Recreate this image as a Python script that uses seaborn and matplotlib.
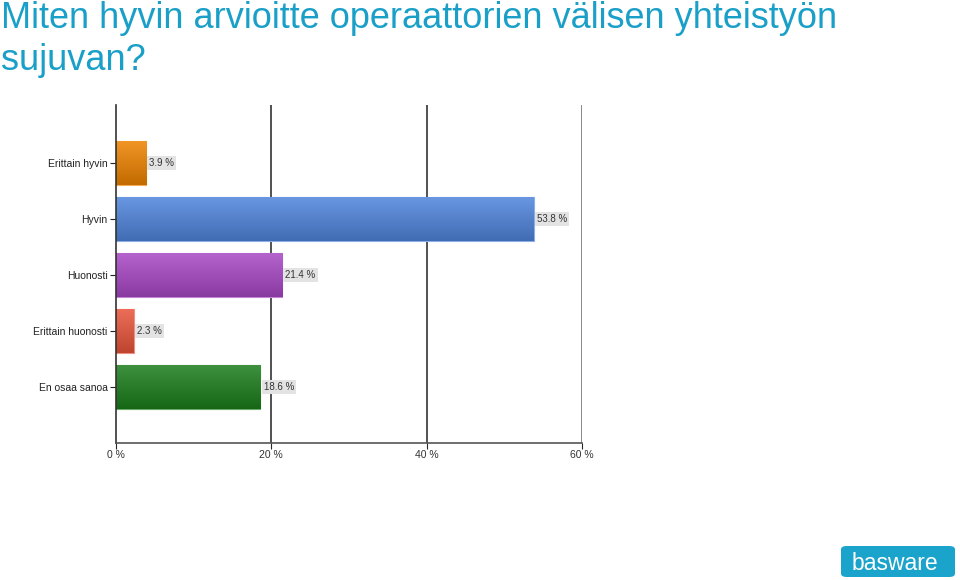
import matplotlib
matplotlib.use("Agg")
import matplotlib.pyplot as plt
import seaborn as sns
import pandas as pd
import numpy as np
from matplotlib.patches import FancyBboxPatch
from matplotlib.colors import to_rgb

categories = ["Erittain hyvin", "Hyvin", "Huonosti", "Erittain huonosti", "En osaa sanoa"]
values = [3.9, 53.8, 21.4, 2.3, 18.6]
colors = ["#ee8200", "#4f84dc", "#a847c4", "#e8543a", "#1b7d1b"]
xticks = [0, 20, 40, 60]
title_lines = ["Miten hyvin arvioitte operaattorien välisen yhteistyön", "sujuvan?"]

sns.set_theme(style="white")
plt.rcParams['font.family'] = ['Liberation Sans', 'DejaVu Sans']

df = pd.DataFrame({"cat": categories, "val": values})

fig = plt.figure(figsize=(9.6, 5.8), dpi=100)
ax = fig.add_axes([116/960, 1-443/580, (582-116)/960, (443-105)/580])

sns.barplot(data=df, y="cat", x="val", hue="cat", palette=colors, orient="h",
            width=0.786, ax=ax, legend=False, saturation=1)

ax.set_xlim(0, 60)
ax.set_ylim(5.0, -1.04)

# vertical gradient on each bar
for p in list(ax.patches):
    x0, y0 = p.get_x(), p.get_y()
    w, h = p.get_width(), p.get_height()
    if w <= 0:
        continue
    base = np.array(to_rgb(p.get_facecolor()))
    top = base + (1 - base) * 0.15
    bot = base * 0.82
    t = np.linspace(0, 1, 64)[:, None]
    grad = (top[None, :] * (1 - t) + bot[None, :] * t)[:, None, :]
    im = ax.imshow(grad, extent=[x0, x0 + w, y0 + h, y0], aspect="auto", zorder=p.get_zorder() + 0.1,
                   interpolation="bilinear")
    im.set_clip_path(p)
    p.set_edgecolor(tuple(base + (1 - base) * 0.35))
    p.set_linewidth(0.8)

ax.set_xlim(0, 60)
ax.set_ylim(5.0, -1.04)
ax.set_xticks(xticks)
ax.set_xticklabels([f"{t} %" for t in xticks], fontsize=7.5, color="#333333")
ax.tick_params(axis="y", labelsize=7.5, colors="#222222", length=4, width=0.8, direction="out", left=True, pad=2)
ax.tick_params(axis="x", length=4, width=0.8, direction="out", bottom=True, pad=1)
ax.set_xlabel("")
ax.set_ylabel("")
for t in xticks[1:-1]:
    ax.axvline(t, color="#333333", lw=1.2, zorder=0)
ax.axvline(60, color="#888888", lw=1.4, zorder=0)
for s in ["top", "right"]:
    ax.spines[s].set_visible(False)
ax.spines["left"].set_color("#333333")
ax.spines["bottom"].set_color("#555555")
ax.spines["left"].set_linewidth(1.2)
ax.spines["bottom"].set_linewidth(1.2)

for i, v in enumerate(values):
    ax.text(v + 0.4, i, f"{v} %", va="center", ha="left", fontsize=7, color="#333333",
            bbox=dict(boxstyle="square,pad=0.2", fc="#e3e3e3", ec="none"))

for line, base_y in zip(title_lines, [27.5, 70]):
    fig.text(1/960, 1-base_y/580, line, fontsize=26, color="#1aa0c8", va="baseline", ha="left")

logo = FancyBboxPatch((841/960, 1-577/580), 114/960, 31/580, boxstyle="round,pad=0,rounding_size=0.006",
                      transform=fig.transFigure, fc="#1aa3cb", ec="none")
fig.patches.append(logo)
fig.text(895/960, 1-563/580, "basware", fontsize=16.5, color="white", ha="center", va="center")

fig.savefig("out.png", dpi=100)
